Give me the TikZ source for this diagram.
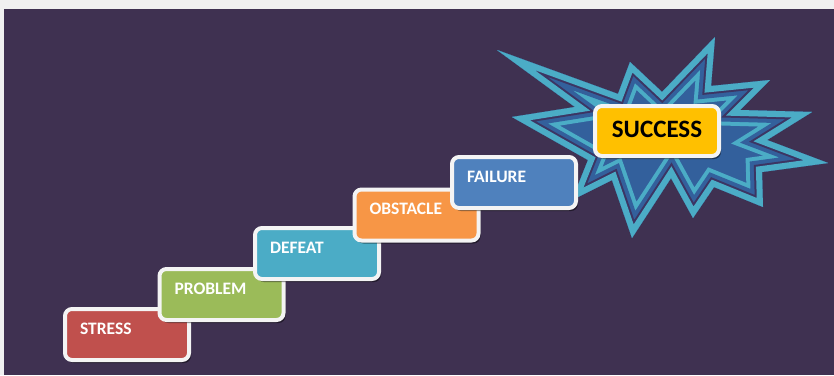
\documentclass[tikz,border=0pt]{standalone}
\usepackage{fontspec}
\setmainfont{Carlito}
\usetikzlibrary{shadows}
\definecolor{pagegray}{HTML}{F0F0F0}
\definecolor{bgpurple}{HTML}{3F3151}
\definecolor{starlb}{HTML}{4BACC6}
\definecolor{starfill}{HTML}{33609C}
\definecolor{stardark}{HTML}{3C3563}
\definecolor{boxborder}{HTML}{F4F4F4}
\definecolor{cstress}{HTML}{C0504D}
\definecolor{cproblem}{HTML}{9BBB59}
\definecolor{cdefeat}{HTML}{4BACC6}
\definecolor{cobstacle}{HTML}{F79646}
\definecolor{cfailure}{HTML}{4F81BD}
\definecolor{csuccess}{HTML}{FFC000}
\newcommand\burst[1]{\path[#1] (497,50) -- (618,94) -- (630,62) -- (662,92) -- (715,37) -- (711,86) -- (770,80) -- (740,110) -- (812,112) -- (767,140) -- (828,163) -- (762,172) -- (763,207) -- (714,187) -- (693,218) -- (671,178) -- (632,238) -- (612,180) -- (572,200) -- (588,160) -- (512,117) -- (575,107) -- cycle;}
\tikzset{
  stepbox/.style={rounded corners=7pt, draw=boxborder, line width=4pt,
    inner xsep=15pt, inner ysep=0pt, text width=94pt, align=left,
    text height=25pt, text depth=26pt, text=white,
    font=\bfseries\fontsize{17.5}{17.5}\selectfont,
    drop shadow={shadow xshift=2pt, shadow yshift=-3pt, opacity=0.45, fill=black}},
  goalbox/.style={stepbox, inner xsep=0pt, text width=124pt, align=center,
    text height=31pt, text depth=19pt, text=black,
    font=\bfseries\fontsize{25}{25}\selectfont}
}
\begin{document}
\begin{tikzpicture}[x=1pt,y=-1pt]
\useasboundingbox (0,0) rectangle (834,375);
\fill[pagegray] (0,0) rectangle (834,375);
\fill[bgpurple] (4,9) rectangle (834,375);
\begin{scope}
  \burst{clip}
  \burst{fill=starfill}
  \burst{draw=starlb, line width=32pt}
  \burst{draw=starfill, line width=24pt}
  \burst{draw=stardark, line width=16pt}
  \burst{draw=starlb, line width=12pt}
\end{scope}
\node[stepbox, fill=cstress] (stress) at (127,334.5) {STRESS};
\node[stepbox, fill=cproblem] (problem) at (221.5,294.5) {PROBLEM};
\node[stepbox, fill=cdefeat] (defeat) at (317,253.5) {DEFEAT};
\node[stepbox, fill=cobstacle] (obstacle) at (416.5,215) {OBSTACLE};
\node[stepbox, fill=cfailure] (failure) at (514,182.5) {FAILURE};
\node[goalbox, fill=csuccess] (success) at (657,131) {SUCCESS};
\end{tikzpicture}
\end{document}
